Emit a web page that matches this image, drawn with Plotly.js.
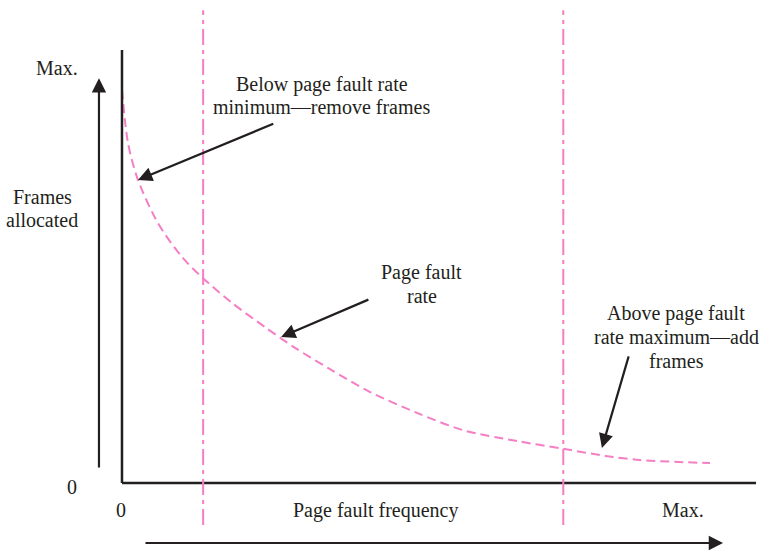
<!DOCTYPE html>
<html>
<head>
<meta charset="utf-8">
<script src="https://cdn.plot.ly/plotly-3.0.1.min.js"></script>
<style>html,body{margin:0;padding:0;background:#fff;}#chart{width:772px;height:555px;}</style>
</head>
<body>
<div id="chart"></div>
<script>
// Page fault frequency (0..100 = axis extent) vs frames allocated (0..100 = "Max.")
var curveFreq   = [0, 0.95, 2.52, 5.68, 9.46, 12.78, 17.35, 22.56, 27.29, 32.81, 39.12, 46.53, 53.79, 62.30, 69.56, 76.50, 81.70, 92.74];
var curveFrames = [90.8, 78.5, 70.0, 60.0, 52.2, 47.3, 41.6, 36.0, 31.2, 26.3, 21.0, 16.2, 12.2, 9.7, 7.9, 6.2, 5.3, 4.6];
var thresholdFreq = [12.8, 69.6];   // minimum and maximum page fault rate lines
var tickLabels = {xZero: "0", xMax: "Max.", yZero: "0", yMax: "Max."};
var xTitle = "Page fault frequency";
var yTitleLines = ["Frames", "allocated"];
var belowLines = ["Below page fault rate", "minimum\u2014remove frames"];
var rateLines = ["Page fault", "rate"];
var aboveLines = ["Above page fault", "rate maximum\u2014add", "frames"];

var pink = "#f57ec4";
var ink = "#231f20";
var font = {family: "Liberation Serif", size: 20, color: ink};

var traces = [{
  x: curveFreq, y: curveFrames, type: "scatter", mode: "lines",
  line: {color: pink, width: 2, dash: "9px,5px", shape: "spline", smoothing: 0.8},
  hoverinfo: "skip"
}];

var shapes = [
  {type: "line", xref: "x", yref: "y", x0: 0, x1: 0, y0: 0, y1: 100, line: {color: ink, width: 2.5}},
  {type: "line", xref: "x", yref: "y", x0: 0, x1: 100, y0: 0, y1: 0, line: {color: ink, width: 2.5}}
];
thresholdFreq.forEach(function (f) {
  shapes.push({type: "line", xref: "x", yref: "y", x0: f, x1: f, y0: -9.7, y1: 109.2,
    line: {color: pink, width: 2, dash: "16px,5px,4px,5px"}});
});

function arrow(tx, ty, fx, fy) {
  return {x: tx, y: ty, ax: fx, ay: fy, xref: "x", yref: "y", axref: "x", ayref: "y",
    text: "", showarrow: true, arrowhead: 2, arrowsize: 1.3, arrowwidth: 2.2, arrowcolor: ink};
}
function label(txt, x, y) {
  return {x: x, y: y, xref: "x", yref: "y", text: txt, showarrow: false, font: font,
    align: "center", xanchor: "center", yanchor: "middle"};
}
function block(lines, x, yTop, step) {
  return lines.map(function (t, i) { return label(t, x, yTop - i * step); });
}

var annotations = [
  label(tickLabels.yMax, -10.25, 95.8),
  label(tickLabels.yZero, -7.89, -0.92),
  label(tickLabels.xZero, -0.16, -6.24),
  label(xTitle, 40.06, -6.24),
  label(tickLabels.xMax, 88.5, -6.24)
].concat(
  block(yTitleLines, -12.6, 66.05, 5.2),
  block(belowLines, 31.5, 92.15, 5.4),
  block(rateLines, 47.3, 48.73, 5.5),
  block(aboveLines, 87.4, 39.26, 5.54),
  [
    // axis direction arrows
    arrow(-3.63, 93.5, -3.63, 3.23),
    arrow(94.8, -13.86, 3.47, -13.86),
    // callout arrows
    arrow(2.52, 70.0, 24.1, 83.1),
    arrow(25.1, 33.7, 39.1, 42.5),
    arrow(75.7, 8.1, 79.98, 29.6)
  ]
);

var layout = {
  width: 772, height: 555,
  margin: {l: 0, r: 0, t: 0, b: 0},
  paper_bgcolor: "#ffffff", plot_bgcolor: "#ffffff",
  showlegend: false,
  xaxis: {range: [-19.24, 102.52], visible: false, fixedrange: true},
  yaxis: {range: [-16.63, 111.55], visible: false, fixedrange: true},
  shapes: shapes,
  annotations: annotations,
  font: font
};

Plotly.newPlot("chart", traces, layout, {displayModeBar: false, staticPlot: true});
</script>
</body>
</html>
